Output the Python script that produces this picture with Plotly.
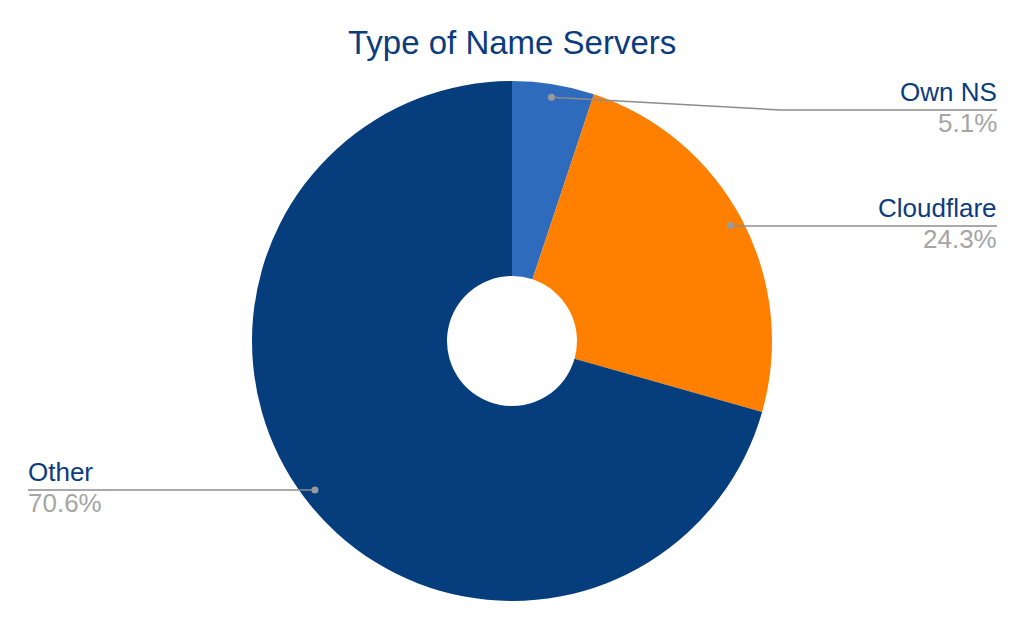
import numpy as np
import plotly.graph_objects as go

# Data
labels = ['Own NS', 'Cloudflare', 'Other']
values = [5.1, 24.3, 70.6]
pct_text = ['5.1%', '24.3%', '70.6%']
colors = ['#2f6bbd', '#ff7f00', '#053d7d']

W, H = 1024, 630
cx, cy, R = 512, 341, 260          # pie centre / radius in px
label_color = '#0b3c7e'
pct_color = '#a5a5a5'
line_color = '#8c8c8c'

def px(x):
    return x / W

def py(y):
    return 1 - y / H

fig = go.Figure()
fig.add_trace(go.Pie(
    labels=labels, values=values, sort=False, direction='clockwise', rotation=0,
    hole=0.25, marker=dict(colors=colors, line=dict(width=0)),
    textinfo='none', showlegend=False, hoverinfo='label+percent',
    domain=dict(x=[0, 1], y=[py(cy + R), py(cy - R)]),
))

# leader line anchors: (line y, x where line ends near label, side)
label_y = [110, 226, 490]
elbow_x = [780, None, None]
side = ['right', 'right', 'left']

total = sum(values)
cum = 0
shapes = []
annotations = []
for i, v in enumerate(values):
    mid = (cum + v / 2) / total * 2 * np.pi
    cum += v
    dx = cx + 0.95 * R * np.sin(mid)
    dy = cy - 0.95 * R * np.cos(mid)
    ly = label_y[i]
    if side[i] == 'right':
        tx = 997
        if elbow_x[i] is not None:
            pts = [(dx, dy), (elbow_x[i], ly), (tx, ly)]
        else:
            pts = [(dx, ly), (tx, ly)]
    else:
        tx = 28
        pts = [(tx, ly), (dx, ly)]
    path = 'M ' + ' L '.join(f'{px(a):.5f},{py(b):.5f}' for a, b in pts)
    shapes.append(dict(type='path', path=path, xref='paper', yref='paper',
                       line=dict(color=line_color, width=1.5)))
    shapes.append(dict(type='circle', xref='paper', yref='paper',
                       x0=px(dx - 3.5), x1=px(dx + 3.5), y0=py(dy + 3.5), y1=py(dy - 3.5),
                       fillcolor='#9a9a9a', line=dict(width=0)))
    xanchor = 'right' if side[i] == 'right' else 'left'
    annotations.append(dict(x=px(tx), y=py(ly), xref='paper', yref='paper',
                            text=labels[i], showarrow=False, xanchor=xanchor, yanchor='bottom',
                            yshift=1, xshift=2 if side[i] == 'right' else -2,
                            font=dict(size=26, color=label_color, family='Liberation Sans')))
    annotations.append(dict(x=px(tx), y=py(ly), xref='paper', yref='paper',
                            text=pct_text[i], showarrow=False, xanchor=xanchor, yanchor='top',
                            yshift=4, xshift=2 if side[i] == 'right' else -2,
                            font=dict(size=26, color=pct_color, family='Liberation Sans')))

annotations.append(dict(x=0.5, y=py(63), xref='paper', yref='paper', text='Type of Name Servers',
                        showarrow=False, xanchor='center', yanchor='bottom',
                        font=dict(size=33, color=label_color, family='Liberation Sans')))

fig.update_layout(
    width=W, height=H, margin=dict(l=0, r=0, t=0, b=0),
    paper_bgcolor='white', plot_bgcolor='white',
    shapes=shapes, annotations=annotations,
)

fig.write_html('out.html', config={'displayModeBar': False},
               post_script="document.body.style.margin='0';")
